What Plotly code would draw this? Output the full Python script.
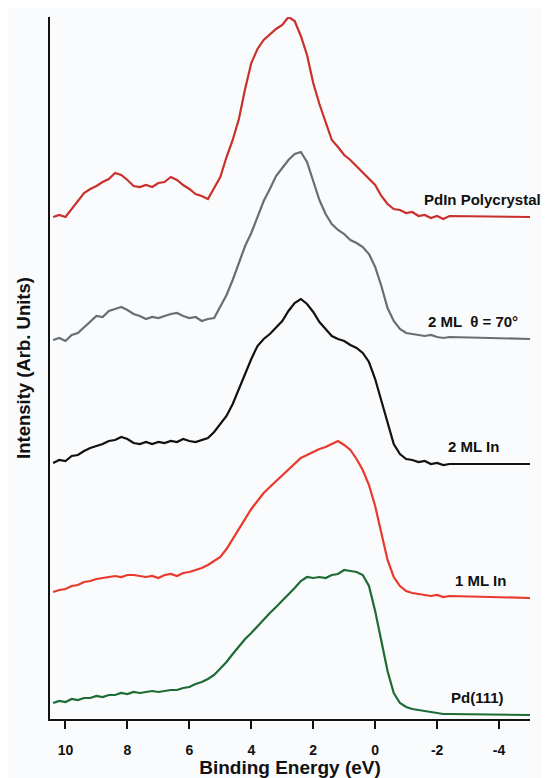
import plotly.graph_objects as go

# binding energy grid (eV), shared by all five spectra; last point is the flat tail end
energy = [10.4, 10.2, 10.0, 9.8, 9.6, 9.4, 9.2, 9.0, 8.8, 8.6,
          8.4, 8.2, 8.0, 7.8, 7.6, 7.4, 7.2, 7.0, 6.8, 6.6,
          6.4, 6.2, 6.0, 5.8, 5.6, 5.4, 5.2, 5.0, 4.8, 4.6,
          4.4, 4.2, 4.0, 3.8, 3.6, 3.4, 3.2, 3.0, 2.8, 2.6,
          2.4, 2.2, 2.0, 1.8, 1.6, 1.4, 1.2, 1.0, 0.8, 0.6,
          0.4, 0.2, 0.0, -0.2, -0.4, -0.6, -0.8, -1.0, -1.2, -1.4,
          -1.6, -1.8, -2.0, -2.2, -2.4,
          -5.0]

# intensities (arb. units), each spectrum already offset vertically
pdin_poly = [50.2, 50.4, 50.2, 51.0, 51.9, 52.6, 53.0, 53.3, 53.7, 54.0,
             54.6, 54.4, 53.9, 53.3, 53.2, 53.4, 53.2, 53.6, 53.7, 54.2,
             53.9, 53.4, 53.0, 52.5, 52.3, 52.0, 53.1, 54.2, 56.2, 57.9,
             60.0, 63.0, 65.6, 67.0, 67.9, 68.5, 69.0, 69.4, 70.2, 69.8,
             68.3, 66.4, 63.6, 61.5, 59.6, 57.9, 57.2, 56.4, 55.9, 55.3,
             54.6, 54.0, 53.4, 52.3, 51.5, 51.0, 50.9, 50.6, 50.7, 50.3,
             50.4, 50.1, 50.3, 50.0, 50.3,
             50.2]

ml2_70deg = [37.9, 38.1, 37.8, 38.4, 38.6, 39.2, 39.8, 40.3, 40.2, 40.8,
             41.0, 41.2, 40.9, 40.5, 40.3, 40.0, 40.2, 40.1, 40.3, 40.5,
             40.6, 40.3, 40.1, 40.2, 39.8, 40.0, 40.1, 41.2, 42.4, 43.9,
             45.7, 47.3, 48.6, 50.3, 51.8, 53.0, 54.3, 55.1, 55.9, 56.5,
             56.7, 55.7, 53.7, 51.9, 50.5, 49.5, 48.9, 48.5, 47.9, 47.6,
             47.2, 46.5, 45.2, 43.3, 41.1, 39.8, 39.0, 38.6, 38.5, 38.4,
             38.3, 38.4, 38.2, 38.1, 38.2,
             38.0]

ml2_in = [25.6, 25.9, 25.8, 26.3, 26.4, 26.8, 27.1, 27.3, 27.5, 27.8,
          27.9, 28.2, 28.0, 27.6, 27.5, 27.7, 27.5, 27.7, 27.6, 27.8,
          27.7, 28.0, 27.8, 27.7, 27.9, 28.1, 28.7, 29.5, 30.3, 31.5,
          33.0, 34.6, 36.0, 37.3, 38.0, 38.5, 39.1, 39.8, 40.8, 41.6,
          42.0, 41.5, 40.7, 39.7, 39.0, 38.3, 38.0, 37.8, 37.4, 37.1,
          36.6, 35.7, 34.0, 31.8, 29.8, 27.5, 26.5, 26.0, 25.9, 25.7,
          25.8, 25.5, 25.6, 25.4, 25.5,
          25.5]

ml1_in = [12.7, 12.9, 13.0, 13.3, 13.4, 13.7, 13.8, 14.0, 14.1, 14.2,
          14.3, 14.2, 14.4, 14.4, 14.3, 14.2, 14.3, 14.1, 14.4, 14.5,
          14.3, 14.6, 14.7, 14.9, 15.1, 15.4, 15.8, 16.2, 17.0, 18.0,
          19.0, 20.0, 21.0, 21.8, 22.6, 23.2, 23.8, 24.3, 25.0, 25.6,
          26.1, 26.4, 26.7, 27.0, 27.2, 27.5, 27.8, 27.4, 26.9, 26.0,
          24.9, 23.4, 21.3, 18.6, 15.9, 14.2, 13.3, 12.8, 12.6, 12.5,
          12.4, 12.3, 12.4, 12.2, 12.3,
          12.1]

pd111 = [1.6, 1.8, 1.7, 2.0, 1.9, 2.1, 2.1, 2.3, 2.2, 2.4,
         2.4, 2.6, 2.5, 2.7, 2.6, 2.7, 2.8, 2.7, 2.8, 2.9,
         2.9, 3.1, 3.2, 3.5, 3.7, 4.0, 4.4, 5.0, 5.7, 6.5,
         7.3, 8.0, 8.6, 9.3, 9.9, 10.6, 11.2, 11.8, 12.4, 13.1,
         13.8, 14.2, 14.1, 14.2, 14.1, 14.4, 14.5, 14.9, 14.8, 14.7,
         14.4, 13.3, 10.8, 7.7, 4.8, 2.6, 1.6, 1.2, 1.0, 0.9,
         0.8, 0.7, 0.6, 0.5, 0.5,
         0.4]

labels = ["PdIn Polycrystal", "2 ML  \u03b8 = 70\u00b0", "2 ML In", "1 ML In", "Pd(111)"]
tick_vals = [10, 8, 6, 4, 2, 0, -2, -4]
tick_text = ["10", "8", "6", "4", "2", "0", "-2", "-4"]

curves = [
    (pdin_poly, "#c9302c", -3.47),
    (ml2_70deg, "#6b6e70", -3.16),
    (ml2_in, "#111111", -3.19),
    (ml1_in, "#e8392c", -3.39),
    (pd111, "#1d6b35", -3.31),
]

fig = go.Figure()
for (ys, col, lx), name in zip(curves, labels):
    fig.add_trace(go.Scatter(x=energy, y=ys, mode="lines", name=name,
                             line=dict(color=col, width=2.2), showlegend=False))
    # label sits just above the flat tail of each curve
    fig.add_annotation(x=lx, y=ys[-1] + 1.8, text="<b>%s</b>" % name, showarrow=False,
                       xanchor="center", yanchor="middle",
                       font=dict(family="Liberation Sans", size=15, color="#111111"))

# page body adds an 8px margin, so the figure is 8px smaller and margins shifted
fig.update_layout(
    width=541, height=770,
    margin=dict(l=42, r=19, t=9, b=59),
    paper_bgcolor="#fafbfd", plot_bgcolor="#fafbfd",
    font=dict(family="Liberation Sans", color="#111111"),
)
fig.update_xaxes(range=[10.5, -5.0], tickvals=tick_vals, ticktext=tick_text,
                 ticks="outside", ticklen=8, tickwidth=2, tickcolor="#111111",
                 ticklabelstandoff=9,
                 showline=True, linewidth=2, linecolor="#111111",
                 showgrid=False, zeroline=False, automargin=False,
                 tickfont=dict(size=14, weight="bold"),
                 title=dict(text="Binding Energy (eV)", font=dict(size=19, weight="bold"), standoff=6))
fig.update_yaxes(range=[0, 70.2], showticklabels=False, ticks="", showline=True, linewidth=2,
                 linecolor="#111111", showgrid=False, zeroline=False, automargin=False,
                 title=dict(text="Intensity (Arb. Units)", font=dict(size=18.5, weight="bold"), standoff=13))

fig.write_html("out.html")
